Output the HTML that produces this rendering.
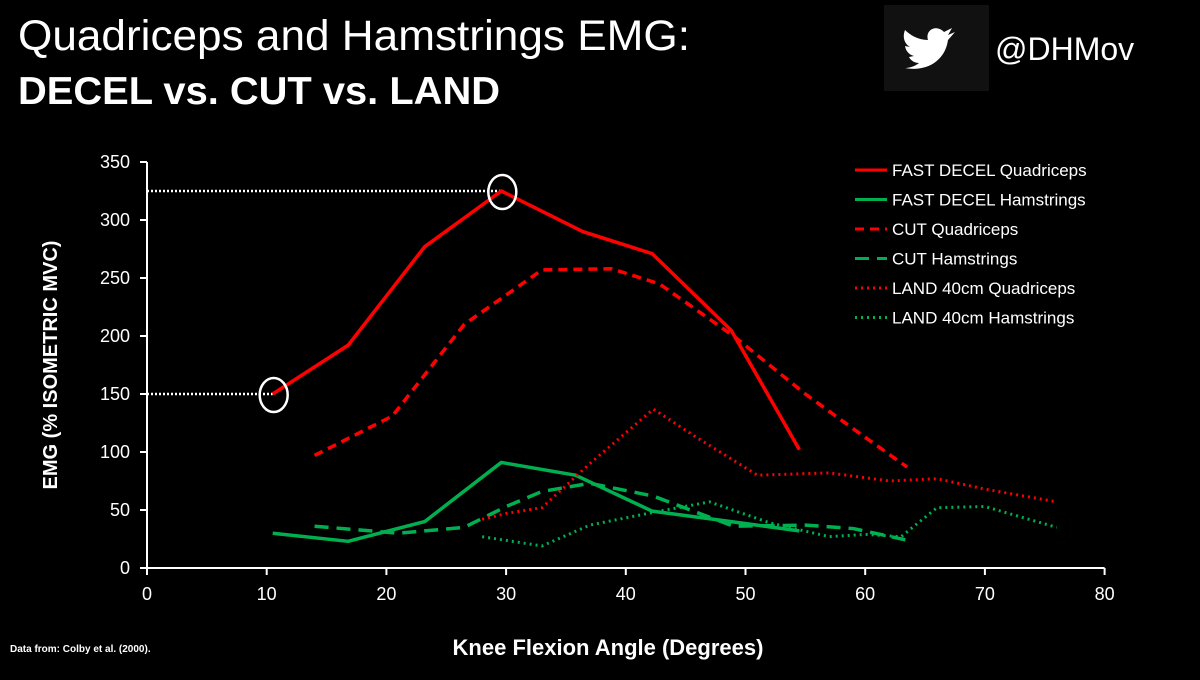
<!DOCTYPE html>
<html><head><meta charset="utf-8"><style>
body{margin:0;background:#000;width:1200px;height:675px;overflow:hidden;font-family:"Liberation Sans",sans-serif;color:#fff}
</style></head><body>
<svg width="1200" height="675" viewBox="0 0 1200 675">
<rect width="1200" height="675" fill="#000"/>
<text x="18" y="50" font-size="43" fill="#fff" textLength="672" lengthAdjust="spacingAndGlyphs">Quadriceps and Hamstrings EMG:</text>
<text x="18" y="104" font-size="39" font-weight="bold" fill="#fff" textLength="482" lengthAdjust="spacingAndGlyphs">DECEL vs. CUT vs. LAND</text>
<rect x="884" y="5" width="105" height="86" fill="#111"/>
<path d="M905 68 C925 72 945 62 948 40 L955 32 L948 35 L952 28 L944 32 C936 24 925 30 928 40 C918 40 910 35 905 30 C902 38 905 44 910 47 L905 46 C906 52 910 55 914 56 L909 57 C911 61 915 63 919 63 C914 67 908 68 905 68 Z" fill="#fff"/>
<text x="995" y="60" font-size="32" fill="#fff">@DHMov</text>
<g id="axes"></g>
<g id="plot"></g>
<g id="legend"></g>
<text x="608" y="655" font-size="22" font-weight="bold" text-anchor="middle" fill="#fff">Knee Flexion Angle (Degrees)</text>
<text transform="translate(57,365) rotate(-90)" font-size="20" font-weight="bold" text-anchor="middle" fill="#fff">EMG (% ISOMETRIC MVC)</text>
<text x="10" y="652" font-size="10" font-weight="bold" fill="#fff">Data from: Colby et al. (2000).</text>
</svg>
<script>
const xTicks=[0,10,20,30,40,50,60,70,80];
const yTicks=[0,50,100,150,200,250,300,350];
const seriesNames=["FAST DECEL Quadriceps","FAST DECEL Hamstrings","CUT Quadriceps","CUT Hamstrings","LAND 40cm Quadriceps","LAND 40cm Hamstrings"];
const decelQuadX=[10.5,16.8,23.2,29.6,36.4,42.2,48.8,54.5];
const decelQuadY=[150,192,277,325,290,271,205,102];
const decelHamX=[10.5,16.8,23.2,29.6,35.8,42.2,48.8,54.5];
const decelHamY=[30,23,40,91,80,49,40,32];
const cutQuadX=[14,20.5,26.5,33,38.8,42.8,49,55,59,63.5];
const cutQuadY=[97,131,210,257,258,245,200,150,120,87];
const cutHamX=[14,21,26.5,30,33,37,42.3,49,55,59,63.5];
const cutHamY=[36,30,35,53,66,73,62,36,37,34,24];
const landQuadX=[28,30,33,37,42.3,46,51,57,62,66,70,76];
const landQuadY=[42,47,52,90,137,112,80,82,75,77,68,57];
const landHamX=[28,33,37,42.3,47,52,57,60,63,66,70,76];
const landHamY=[27,19,37,48,57,39,27,29,27,52,53,35];
const highlightX=[10.5,29.6];
const highlightY=[150,325];
const NS="http://www.w3.org/2000/svg";
const sx=v=>147+v*11.97, sy=v=>568-v*1.16;
function mk(t,a,p){const e=document.createElementNS(NS,t);for(const k in a)e.setAttribute(k,a[k]);p.appendChild(e);return e;}
const ax=document.getElementById('axes');
let l=mk('line',{x1:147,y1:sy(0),x2:sx(80),y2:sy(0),stroke:'#fff','stroke-width':2},ax);


l=mk('line',{x1:147,y1:sy(0),x2:147,y2:sy(350),stroke:'#fff','stroke-width':2},ax);


xTicks.forEach(v=>{const t=mk('line',{x1:sx(v),y1:568,x2:sx(v),y2:575,stroke:'#fff','stroke-width':2},ax);


const tx=mk('text',{x:sx(v),y:600,'font-size':18,'text-anchor':'middle',fill:'#fff'},ax);tx.textContent=v;

});
yTicks.forEach(v=>{const t=mk('line',{x1:140,y1:sy(v),x2:147,y2:sy(v),stroke:'#fff','stroke-width':2},ax);


const tx=mk('text',{x:130,y:sy(v)+6,'font-size':18,'text-anchor':'end',fill:'#fff'},ax);tx.textContent=v;

});
const pl=document.getElementById('plot');
for(let i=0;i<2;i++){const g=mk('line',{x1:147,y1:sy(highlightY[i]),x2:sx(highlightX[i]),y2:sy(highlightY[i]),stroke:'#fff','stroke-width':2.5,'stroke-dasharray':'2 2'},pl);

}
const RED='#ff0000',GRN='#00b050';
const styles=[[RED,''],[GRN,''],[RED,'9 6'],[GRN,'14 8'],[RED,'2 4'],[GRN,'2 4']];
const data=[[decelQuadX,decelQuadY],[decelHamX,decelHamY],[cutQuadX,cutQuadY],[cutHamX,cutHamY],[landQuadX,landQuadY],[landHamX,landHamY]];
const names=['line-decel-quadriceps','line-decel-hamstrings','line-cut-quadriceps','line-cut-hamstrings','line-land-quadriceps','line-land-hamstrings'];
data.forEach((d,i)=>{const pts=d[0].map((x,j)=>sx(x)+','+sy(d[1][j])).join(' ');
const p=mk('polyline',{points:pts,fill:'none',stroke:styles[i][0],'stroke-width':i>=4?3:3.5,'stroke-dasharray':styles[i][1],'stroke-linejoin':'round'},pl);

});
for(let i=0;i<2;i++){const c=mk('ellipse',{cx:sx(highlightX[i])+1,cy:sy(highlightY[i])+1,rx:14,ry:17,fill:'none',stroke:'#fff','stroke-width':2.5},pl);

}
const lg=document.getElementById('legend');
seriesNames.forEach((n,i)=>{const y=170+i*29.5;
const ln=mk('line',{x1:855,y1:y,x2:887,y2:y,stroke:styles[i][0],'stroke-width':3,'stroke-dasharray':styles[i][1]},lg);


const t=mk('text',{x:892,y:y+6,'font-size':17,fill:'#fff'},lg);t.textContent=n;

});
</script>
</body></html>
